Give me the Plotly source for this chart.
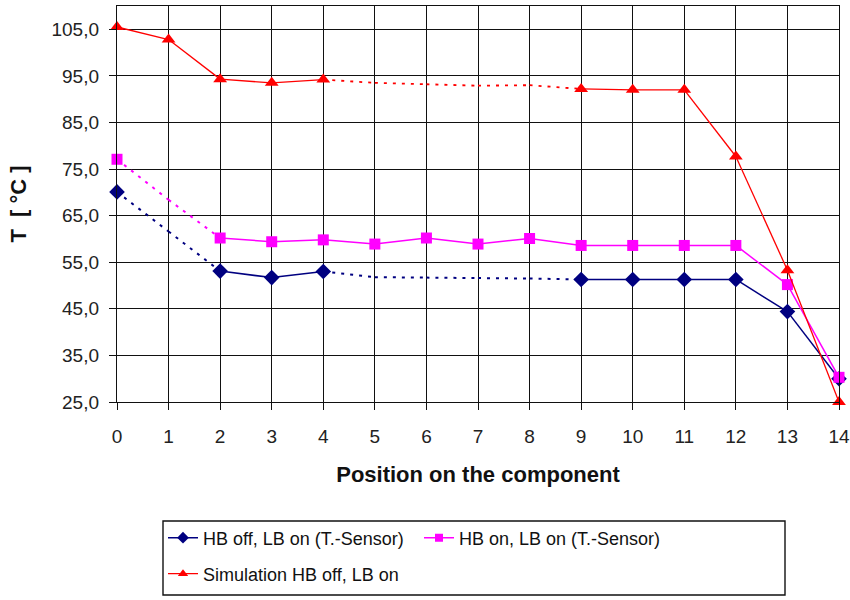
import plotly.graph_objects as go

# ---------------- data ----------------
positions = list(range(15))

hb_off_sensor = [70.1, 61.6, 53.1, 51.7, 53.0, 51.8, 51.7, 51.6, 51.5, 51.3, 51.3, 51.3, 51.3, 44.4, 30.0]
hb_on_sensor = [77.1, 68.4, 60.2, 59.4, 59.8, 58.9, 60.2, 58.9, 60.1, 58.6, 58.6, 58.6, 58.6, 50.2, 30.3]
simulation = [105.5, 102.8, 94.3, 93.5, 94.2, 93.5, 93.2, 92.9, 93.0, 92.2, 92.0, 92.0, 77.7, 53.3, 25.0]

# segments (index of start point) drawn dotted, and points drawn without marker
hb_off_dotted = [0, 1, 4, 5, 6, 7, 8]
hb_off_nomark = [1, 5, 6, 7, 8]
hb_on_dotted = [0, 1]
hb_on_nomark = [1]
sim_dotted = [4, 5, 6, 7, 8]
sim_nomark = [5, 6, 7, 8]

names = ["HB off, LB on (T.-Sensor)", "HB on, LB on (T.-Sensor)", "Simulation HB off, LB on"]
y_ticks = [25, 35, 45, 55, 65, 75, 85, 95, 105]

FONT = "Liberation Sans, Arial, sans-serif"

series = [
    (names[0], hb_off_sensor, hb_off_dotted, hb_off_nomark, "#000080", "diamond", 12, 1.5, "legend"),
    (names[1], hb_on_sensor, hb_on_dotted, hb_on_nomark, "#FF00FF", "square", 11, 1.5, "legend"),
    (names[2], simulation, sim_dotted, sim_nomark, "#FF0000", "triangle-up", 12, 1.3, "legend2"),
]

fig = go.Figure()


def seg_xy(xs, ys, idxs):
    ox, oy = [], []
    for i in idxs:
        ox += [xs[i], xs[i + 1], None]
        oy += [ys[i], ys[i + 1], None]
    return ox, oy


for name, ys, dotted, nomark, color, symbol, msize, lw, leg in series:
    solid = [i for i in range(len(ys) - 1) if i not in dotted]
    sx, sy = seg_xy(positions, ys, solid)
    dx, dy = seg_xy(positions, ys, dotted)
    fig.add_trace(go.Scatter(x=sx, y=sy, mode="lines", line=dict(color=color, width=lw),
                             showlegend=False, hoverinfo="skip", cliponaxis=False))
    fig.add_trace(go.Scatter(x=dx, y=dy, mode="lines",
                             line=dict(color=color, width=lw + 0.5, dash="3px,6px"),
                             showlegend=False, hoverinfo="skip", cliponaxis=False))
    mx = [positions[i] for i in range(len(ys)) if i not in nomark]
    my = [ys[i] for i in range(len(ys)) if i not in nomark]
    fig.add_trace(go.Scatter(x=mx, y=my, mode="markers",
                             marker=dict(color=color, symbol=symbol, size=msize, line=dict(width=0)),
                             showlegend=False, cliponaxis=False, name=name))
    # legend entry
    fig.add_trace(go.Scatter(x=[None], y=[None], mode="lines+markers", name=name, legend=leg,
                             line=dict(color=color, width=lw),
                             marker=dict(color=color, symbol=symbol, size=msize - 3)))

axis_common = dict(
    showgrid=True, gridcolor="#111111", gridwidth=1.4,
    showline=True, mirror=True, linecolor="#111111", linewidth=1.4,
    ticks="outside", ticklen=7, tickcolor="#111111", tickwidth=1.4,
    zeroline=False, automargin=False,
    tickfont=dict(family=FONT, size=19, color="#222222"),
)

fig.update_layout(
    width=850, height=600,
    margin=dict(l=117, r=11, t=6, b=198, autoexpand=False),
    paper_bgcolor="white", plot_bgcolor="white",
    separators=", ",
    font=dict(family=FONT, color="#111111"),
    xaxis=dict(
        range=[0, 14], tick0=0, dtick=1, ticklabelstandoff=10,
        title=dict(text="<b>Position on the component</b>", standoff=20,
                   font=dict(family=FONT, size=22, color="#111111")),
        **axis_common,
    ),
    yaxis=dict(
        range=[25, 110], tickmode="array", tickvals=y_ticks, tickformat=".1f",
        ticklabelstandoff=6,
        title=dict(text="<b>T  [ °C ]</b>", standoff=18,
                   font=dict(family=FONT, size=22, color="#111111")),
        **axis_common,
    ),
    legend=dict(
        orientation="h", x=(163 - 117) / 722, xanchor="left",
        y=(402 - 538) / 396, yanchor="middle",
        entrywidth=211, entrywidthmode="pixels",
        font=dict(family=FONT, size=18, color="#111111"),
        bgcolor="rgba(0,0,0,0)", borderwidth=0,
    ),
    legend2=dict(
        orientation="h", x=(163 - 117) / 722, xanchor="left",
        y=(402 - 574) / 396, yanchor="middle",
        font=dict(family=FONT, size=18, color="#111111"),
        bgcolor="rgba(0,0,0,0)", borderwidth=0,
    ),
    shapes=[dict(type="rect", xref="paper", yref="paper",
                 x0=(163 - 117) / 722, x1=(785 - 117) / 722,
                 y0=(402 - 521) / 396, y1=(402 - 595) / 396,
                 line=dict(color="#111111", width=1.4), fillcolor="rgba(0,0,0,0)")],
)

fig.write_html(
    "out.html",
    config={"displayModeBar": False},
    post_script="document.body.style.margin='0';document.body.style.padding='0';"
                "document.body.style.overflow='hidden';",
)
